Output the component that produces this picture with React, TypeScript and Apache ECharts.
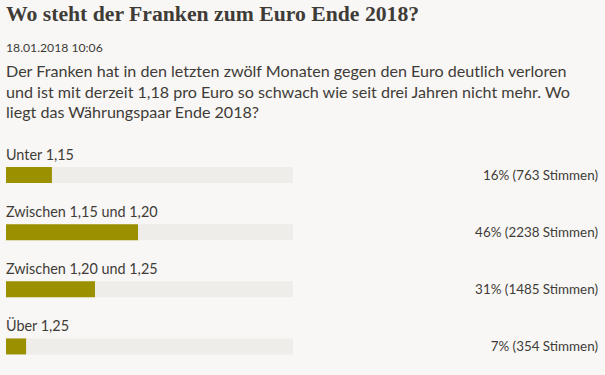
import React, { useEffect, useRef } from "react";
import * as echarts from "echarts";

const titleText = "Wo steht der Franken zum Euro Ende 2018?";
const dateText = "18.01.2018 10:06";
const descLines = [
  "Der Franken hat in den letzten zwölf Monaten gegen den Euro deutlich verloren",
  "und ist mit derzeit 1,18 pro Euro so schwach wie seit drei Jahren nicht mehr. Wo",
  "liegt das Währungspaar Ende 2018?",
];
const categories = ["Unter 1,15", "Zwischen 1,15 und 1,20", "Zwischen 1,20 und 1,25", "Über 1,25"];
const percents = [16, 46, 31, 7];
const votes = [763, 2238, 1485, 354];
const fullScale = [100, 100, 100, 100];

export default function App() {
  const ref = useRef<HTMLDivElement>(null);
  useEffect(() => {
    document.body.style.margin = "0";
    const chart = echarts.init(ref.current!, null, { renderer: "svg" });
    const textColor = "#3f3c38";
    const sans = "Lato";
    chart.setOption({
      animation: false,
      backgroundColor: "#f8f7f5",
      grid: { left: 6, width: 287, top: 146.5, height: 236 },
      xAxis: { type: "value", min: 0, max: 100, show: false },
      yAxis: {
        type: "category",
        data: categories,
        inverse: true,
        show: false,
      },
      graphic: [
        {
          type: "text",
          left: 6,
          top: 3,
          style: {
            text: titleText,
            font: "bold 21.7px 'Liberation Serif'",
            fill: textColor,
          },
        },
        {
          type: "text",
          left: 6,
          top: 41,
          style: { text: dateText, font: `12.2px ${sans}`, fill: textColor },
        },
        ...descLines.map((t, i) => ({
          type: "text",
          left: 6,
          top: 62.5 + i * 20.5,
          style: { text: t, font: `16.1px ${sans}`, fill: textColor },
        })),
      ],
      series: [
        {
          type: "bar",
          data: fullScale,
          barWidth: 16,
          barGap: "-100%",
          itemStyle: { color: "#efede9" },
          label: {
            show: true,
            position: "right",
            distance: 305,
            align: "right",
            fontFamily: sans,
            fontSize: 13.4,
            color: textColor,
            formatter: (p: any) => `${percents[p.dataIndex]}% (${votes[p.dataIndex]} Stimmen)`,
          },
          silent: true,
        },
        {
          type: "bar",
          data: percents,
          barWidth: 16,
          barGap: "-100%",
          itemStyle: { color: "#9a9000" },
          label: {
            show: true,
            position: [0, -6],
            align: "left",
            verticalAlign: "bottom",
            fontFamily: sans,
            fontSize: 14.4,
            color: textColor,
            formatter: "{b}",
          },
        },
      ],
    });
    return () => chart.dispose();
  }, []);
  return <div ref={ref} style={{ position: "fixed", left: 0, top: 0, width: 605, height: 375 }} />;
}
